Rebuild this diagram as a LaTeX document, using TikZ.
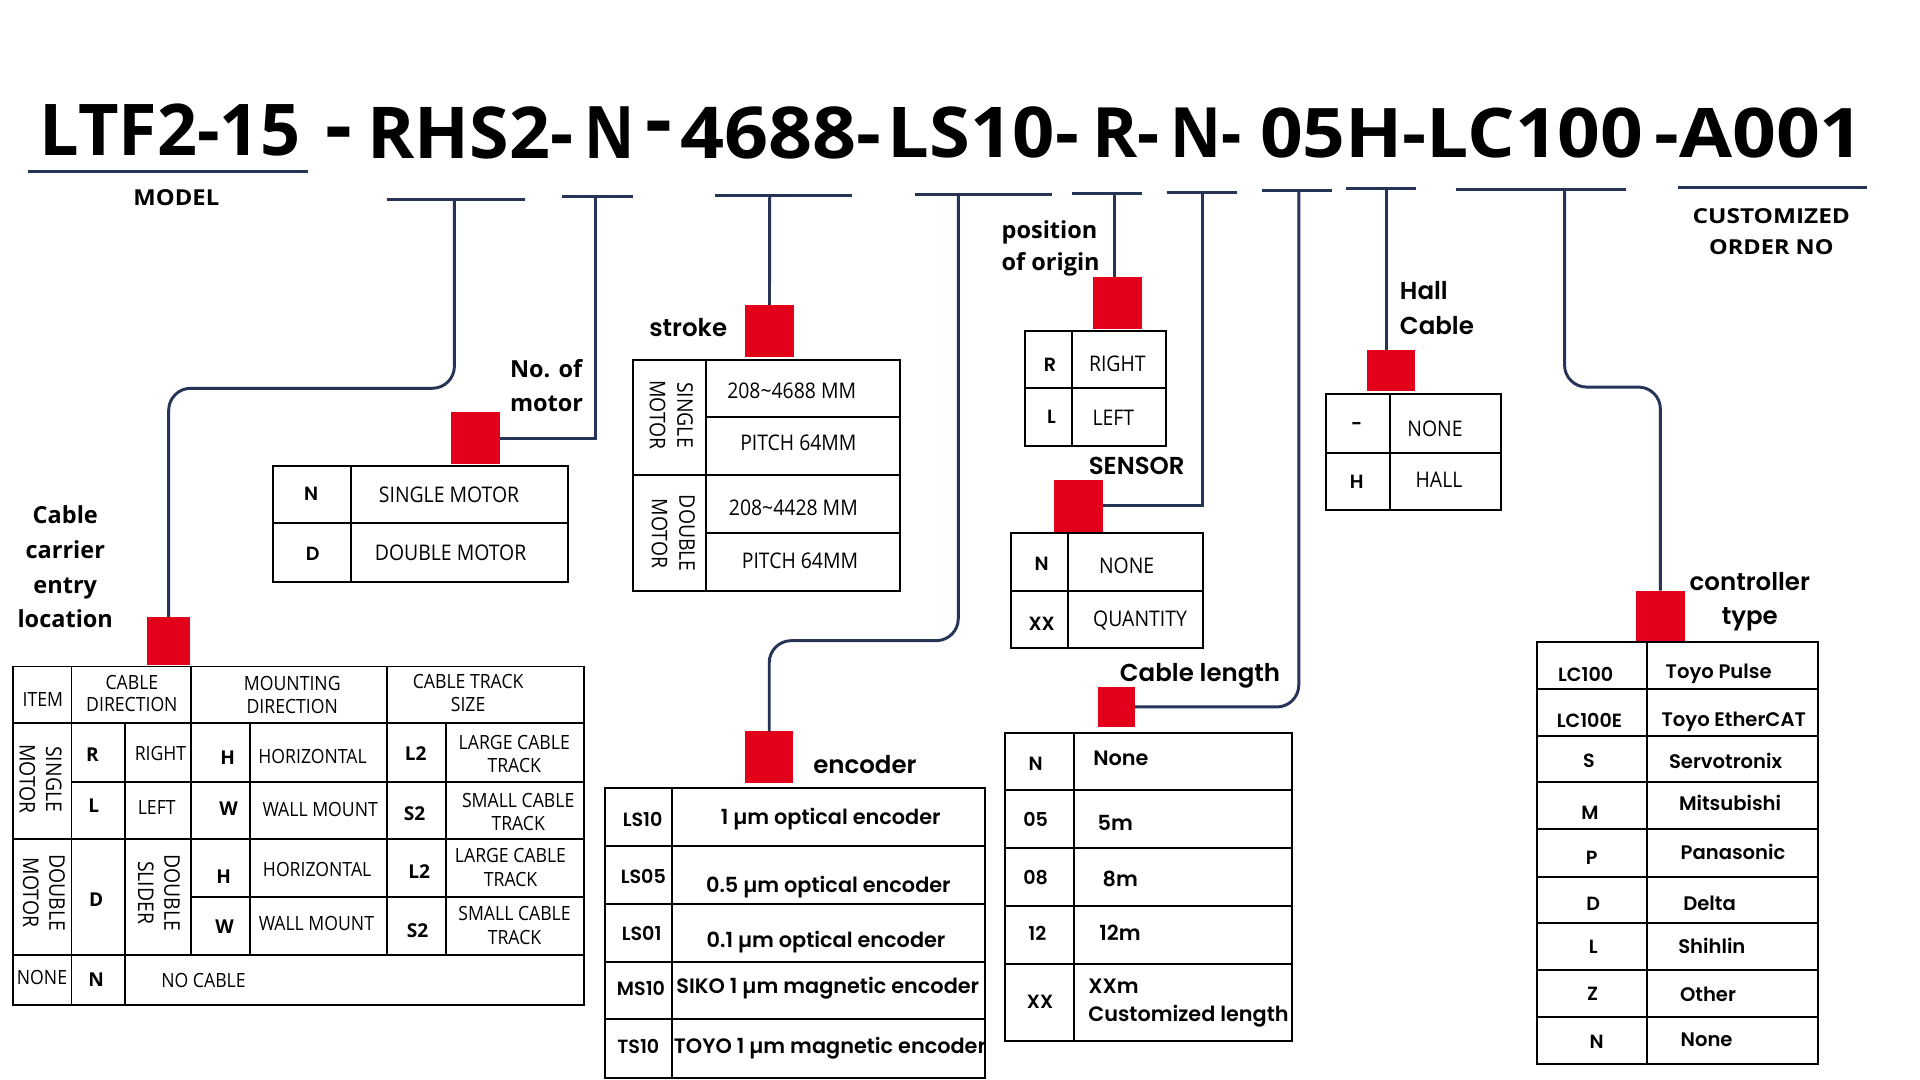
\documentclass[tikz,border=0pt]{standalone}
\usepackage{fontspec}
\setmainfont{Open Sans}
\newfontfamily\osans{Open Sans}
\newfontfamily\tabf{Open Sans}[FakeStretch=0.9]
\newfontfamily\popsb{Poppins SemiBold}
\usetikzlibrary{calc}
\definecolor{navy}{RGB}{38,52,88}
\definecolor{redc}{RGB}{226,0,26}
\begin{document}
\begin{tikzpicture}[x=0.5pt,y=-0.5pt,
  conn/.style={draw=navy, line width=1.2pt},
  tline/.style={draw=black, line width=0.8pt},
  redsq/.style={fill=redc, draw=none, inner sep=0pt, outer sep=0pt},
  txt/.style={inner sep=0pt, outer sep=0pt, anchor=base},
  ttl/.style={txt, anchor=base west, font=\osans\bfseries},
  bigtx/.style={txt, font=\tabf\fontsize{8}{10.8}\selectfont},
  bigcode/.style={txt, font=\osans\bfseries\fontsize{7.8}{9}\selectfont},
  rottx/.style={inner sep=0pt, anchor=center, rotate=-90, align=center, font=\tabf\fontsize{8.8}{10.8}\selectfont},
  smtx/.style={txt, font=\tabf\fontsize{8.8}{11}\selectfont},
  popcode/.style={txt, font=\popsb\fontsize{7.8}{9}\selectfont},
  poptx/.style={txt, font=\popsb\fontsize{8.5}{10}\selectfont},
  ctrltx/.style={txt, anchor=base west, font=\popsb\fontsize{8}{10}\selectfont},
  labp/.style={txt, font=\popsb\fontsize{10}{12}\selectfont},
  labo/.style={txt, font=\osans\bfseries\fontsize{9.6}{12}\selectfont}]
\useasboundingbox[fill=white] (0,0) rectangle (1568,882);

% ---------------- title ----------------
\node[ttl] (tLTF) at (32.6,126.6) {\resizebox{106.2pt}{21.1pt}{LTF2-15}};
\node[txt, font=\osans\bfseries\fontsize{34}{34}\selectfont] (h1) at (276.5,126.4) {-};
\node[ttl] (tRHS) at (300,129.3) {\resizebox{84pt}{21.15pt}{RHS2-}};
\node[ttl] (tN1) at (477,129.3) {\resizebox{20.5pt}{21.15pt}{N}};
\node[txt, font=\osans\bfseries\fontsize{34}{34}\selectfont] (h2) at (538,121) {-};
\node[ttl] (t4688) at (556,129.3) {\resizebox{82pt}{21.15pt}{4688-}};
\node[ttl] (tLS) at (725,129) {\resizebox{78pt}{20.75pt}{LS10-}};
\node[ttl] (tR) at (892,128.5) {\resizebox{27.5pt}{20.25pt}{R-}};
\node[ttl] (tN2) at (956,128.5) {\resizebox{29pt}{20.25pt}{N-}};
\node[ttl] (t05) at (1029,128.5) {\resizebox{156.5pt}{20.25pt}{05H-LC100}};
\node[ttl] (tA) at (1351,128.5) {\resizebox{85.5pt}{20.25pt}{-A001}};
\node[ttl] (model) at (109,168.2) {\resizebox{35pt}{6.5pt}{MODEL}};
\node[ttl, anchor=base] (cust1) at (1446.6,182.4) {\resizebox{64.25pt}{6.1pt}{CUSTOMIZED}};
\node[ttl, anchor=base] (cust2) at (1446.6,208.2) {\resizebox{50.75pt}{6.1pt}{ORDER NO}};

% ---------------- bars ----------------
\draw[conn] (22.5,140.2) -- (251.5,140.2);
\draw[conn] (316,163.3) -- (428.6,163.3);
\draw[conn] (459,160.6) -- (516.6,160.6);
\draw[conn] (583.6,159.8) -- (696.1,159.8);
\draw[conn] (747.6,158.6) -- (859,158.6);
\draw[conn] (875.4,157.9) -- (932.5,157.9);
\draw[conn] (953,157) -- (1010,157);
\draw[conn] (1030.5,155.2) -- (1087.5,155.2);
\draw[conn] (1099,154) -- (1156.5,154);
\draw[conn] (1189,154.7) -- (1328,154.7);
\draw[conn] (1370,153.3) -- (1525,153.3);

\coordinate (bA) at (371.1,163.3);
\coordinate (bB) at (486.1,160.6);
\coordinate (bC) at (628.6,159.8);
\coordinate (bD) at (782.6,158.6);
\coordinate (bE) at (910,157.9);
\coordinate (bF) at (982.2,157);
\coordinate (bG) at (1060.7,155.2);
\coordinate (bH) at (1132.4,154);
\coordinate (bI) at (1277.7,154.7);
\coordinate (yA) at (0,317.1);
\coordinate (yD) at (0,523.2);
\coordinate (yI) at (0,316.1);

% ---------------- red squares ----------------
\node[redsq, minimum width=17.45pt, minimum height=19.5pt] (sqA) at (137.75,523.5) {};
\node[redsq, minimum width=20pt, minimum height=21.15pt] (sqB) at (388.3,357.85) {};
\node[redsq, minimum width=20pt, minimum height=21.15pt] (sqC) at (628.4,270.15) {};
\node[redsq, minimum width=19.8pt, minimum height=21.2pt] (sqD) at (628.2,618.5) {};
\node[redsq, minimum width=20pt, minimum height=21.1pt] (sqE) at (912.3,247.6) {};
\node[redsq, minimum width=20.1pt, minimum height=21.1pt] (sqF) at (880.9,413.1) {};
\node[redsq, minimum width=15.2pt, minimum height=16.05pt] (sqG) at (911.7,577.35) {};
\node[redsq, minimum width=19.5pt, minimum height=16.75pt] (sqH) at (1136.1,302.25) {};
\node[redsq, minimum width=20pt, minimum height=20.4pt] (sqI) at (1356,502.8) {};

% ---------------- connectors ----------------
\draw[conn, rounded corners=9pt] (bA) -- (bA |- yA) -- (sqA.north |- yA) -- (sqA.north);
\draw[conn] (bB) -- (bB |- sqB.east) -- (sqB.east);
\draw[conn] (bC) -- (sqC.north);
\draw[conn, rounded corners=9pt] (bD) -- (bD |- yD) -- (sqD.north |- yD) -- (sqD.north);
\draw[conn] (bE) -- (bE |- sqE.north);
\draw[conn] (bF) -- (bF |- sqF.east) -- (sqF.east);
\draw[conn, rounded corners=9pt] (bG) -- (bG |- sqG.east) -- (sqG.east);
\draw[conn] (bH) -- (bH |- sqH.north);
\draw[conn, rounded corners=9pt] (bI) -- (bI |- yI) -- (sqI.north |- yI) -- (sqI.north);

% ---------------- labels ----------------
\node[labo, anchor=base west] (lNo1) at (416.5,308) {No. of};
\node[labo, anchor=base west] (lNo2) at (416.5,336.2) {motor};
\node[labo] (lCc1) at (53.3,427.4) {Cable};
\node[labo] (lCc2) at (53.3,456) {carrier};
\node[labo] (lCc3) at (53.3,484.5) {entry};
\node[labo] (lCc4) at (53.3,512.3) {location};
\node[labp, anchor=base west] (lStroke) at (530.3,275) {stroke};
\node[labo, anchor=base west] (lPos1) at (818,194.6) {position};
\node[labo, anchor=base west] (lPos2) at (818,220.5) {of origin};
\node[labp] (lSensor) at (928.3,387.9) {SENSOR};
\node[labp, anchor=base west] (lHall1) at (1143.3,244.7) {Hall};
\node[labp, anchor=base west] (lHall2) at (1143.3,273) {Cable};
\node[labp, anchor=base west] (lEnc) at (664.2,631.5) {encoder};
\node[labp, anchor=base west] (lCl) at (914.6,556.7) {Cable length};
\node[labp] (lCt1) at (1429,482) {controller};
\node[labp] (lCt2) at (1429,510.4) {type};

% ---------------- big cable table ----------------
\draw[tline] (11,544.3) rectangle (477,820.7);
\draw[tline] (11,590.7) -- (477,590.7) (11,685.5) -- (477,685.5) (11,780) -- (477,780)
  (58.4,638.4) -- (477,638.4) (156,732.8) -- (477,732.8)
  (58.4,544.3) -- (58.4,820.7) (102.4,590.7) -- (102.4,820.7)
  (156,544.3) -- (156,780) (203.8,590.7) -- (203.8,780)
  (315.8,544.3) -- (315.8,780) (364.2,590.7) -- (364.2,780);
\node[bigtx] (bItem) at (35,576.6) {ITEM};
\node[bigtx] (bCd1) at (107.7,562.9) {CABLE};
\node[bigtx] (bCd2) at (107.7,581.2) {DIRECTION};
\node[bigtx] (bMd1) at (238.7,564) {MOUNTING};
\node[bigtx] (bMd2) at (238.7,582.5) {DIRECTION};
\node[bigtx] (bCt1) at (382.3,562.1) {CABLE TRACK};
\node[bigtx] (bCt2) at (382.3,581.2) {SIZE};
\node[rottx] (bSm) at (33.1,636.3) {SINGLE\\MOTOR};
\node[bigcode] (bR) at (75.5,622) {R};
\node[bigtx] (bRight) at (131.1,621.2) {RIGHT};
\node[bigcode] (bL) at (76.5,663.7) {L};
\node[bigtx] (bLeft) at (128,664.8) {LEFT};
\node[bigcode] (bH1) at (186,624.7) {H};
\node[bigtx] (bHor1) at (255.3,623.9) {HORIZONTAL};
\node[bigcode] (bW1) at (186.6,665.6) {W};
\node[bigtx] (bWall1) at (261.5,667) {WALL MOUNT};
\node[bigcode] (bL21) at (339.5,620.7) {L2};
\node[bigtx] (bLg1a) at (420,611.9) {LARGE CABLE};
\node[bigtx] (bLg1b) at (420,631) {TRACK};
\node[bigcode] (bS21) at (338.6,669.7) {S2};
\node[bigtx] (bSm1a) at (423.2,659.6) {SMALL CABLE};
\node[bigtx] (bSm1b) at (423.2,678.4) {TRACK};
\node[rottx] (bDm) at (35.9,728.9) {DOUBLE\\MOTOR};
\node[bigcode] (bD) at (78.6,739.9) {D};
\node[rottx] (bDs) at (129.8,728.9) {DOUBLE\\SLIDER};
\node[bigcode] (bH2) at (182.6,721.4) {H};
\node[bigtx] (bHor2) at (259,716) {HORIZONTAL};
\node[bigcode] (bW2) at (183.5,762.2) {W};
\node[bigtx] (bWall2) at (258.4,759.5) {WALL MOUNT};
\node[bigcode] (bL22) at (342.3,717.3) {L2};
\node[bigtx] (bLg2a) at (416.9,704.5) {LARGE CABLE};
\node[bigtx] (bLg2b) at (417,723.6) {TRACK};
\node[bigcode] (bS22) at (341,765.7) {S2};
\node[bigtx] (bSm2a) at (420.2,752.1) {SMALL CABLE};
\node[bigtx] (bSm2b) at (420.2,771.2) {TRACK};
\node[bigtx] (bNone) at (34.3,804.4) {NONE};
\node[bigcode] (bN) at (78.6,805.8) {N};
\node[bigtx] (bNoc) at (166.2,806.6) {NO CABLE};

% ---------------- motor table ----------------
\draw[tline] (223.2,380.3) rectangle (464.1,475);
\draw[tline] (286.4,380.3) -- (286.4,475) (223.2,427.4) -- (464.1,427.4);
\node[popcode] (mN) at (254,408.9) {N};
\node[smtx] (mS) at (366.7,410.5) {SINGLE MOTOR};
\node[popcode] (mD) at (255.4,457.9) {D};
\node[smtx] (mDm) at (368,457.9) {DOUBLE MOTOR};

% ---------------- stroke table ----------------
\draw[tline] (517.2,294) rectangle (735,482.6);
\draw[tline] (576.6,294) -- (576.6,482.6) (517.2,387.9) -- (735,387.9)
  (576.6,340.8) -- (735,340.8) (576.6,435.5) -- (735,435.5);
\node[rottx, font=\tabf\fontsize{8.8}{11.2}\selectfont] (sSm) at (548.3,338.9) {SINGLE\\MOTOR};
\node[rottx, font=\tabf\fontsize{8.8}{11.2}\selectfont] (sDm) at (549.9,435.6) {DOUBLE\\MOTOR};
\node[smtx] (s1) at (646.5,325.3) {208\textasciitilde4688 MM};
\node[smtx] (s2) at (652,368.3) {PITCH 64MM};
\node[smtx] (s3) at (647.9,420.6) {208\textasciitilde4428 MM};
\node[smtx] (s4) at (653.3,464.1) {PITCH 64MM};

% ---------------- origin table ----------------
\draw[tline] (837,270) rectangle (952,364.2);
\draw[tline] (875.2,270) -- (875.2,364.2) (837,317.1) -- (952,317.1);
\node[popcode] (oR) at (857.5,303.5) {R};
\node[smtx] (oRight) at (912.5,303.5) {RIGHT};
\node[popcode] (oL) at (858.8,345.7) {L};
\node[smtx] (oLeft) at (909.2,347.1) {LEFT};

% ---------------- sensor table ----------------
\draw[tline] (825.4,435.5) rectangle (982.2,529.5);
\draw[tline] (872.5,435.5) -- (872.5,529.5) (825.4,482.7) -- (982.2,482.7);
\node[popcode] (sN) at (850.7,465.5) {N};
\node[smtx] (sNone) at (920.1,468.2) {NONE};
\node[popcode] (sXX) at (850.7,514.5) {XX};
\node[smtx] (sQ) at (931,511.8) {QUANTITY};

% ---------------- hall table ----------------
\draw[tline] (1082.6,322) rectangle (1225.6,416.8);
\draw[tline] (1135,322) -- (1135,416.8) (1082.6,370.1) -- (1225.6,370.1);
\node[popcode] (hD) at (1108,351.8) {-};
\node[smtx] (hNone) at (1171.9,356.4) {NONE};
\node[popcode] (hH) at (1108,399.3) {H};
\node[smtx] (hHall) at (1175.2,397.8) {HALL};

% ---------------- cable length table ----------------
\draw[tline] (820.7,598.3) rectangle (1054.9,849.9);
\draw[tline] (877.1,598.3) -- (877.1,849.9) (820.7,645.2) -- (1054.9,645.2)
  (820.7,692.8) -- (1054.9,692.8) (820.7,739.9) -- (1054.9,739.9) (820.7,787.3) -- (1054.9,787.3);
\node[popcode] (cN) at (845.8,629.4) {N};
\node[poptx, anchor=base west] (cNone) at (892.9,624.8) {None};
\node[popcode] (c05) at (845.8,675.1) {05};
\node[poptx, anchor=base west] (c5m) at (896.4,678.6) {5m};
\node[popcode] (c08) at (845.8,722.7) {08};
\node[poptx, anchor=base west] (c8m) at (900.5,723.6) {8m};
\node[popcode] (c12) at (847.2,767.7) {12};
\node[poptx, anchor=base west] (c12m) at (897.8,768.2) {12m};
\node[popcode] (cXX) at (849.4,823.5) {XX};
\node[poptx, anchor=base west] (cXXm) at (888.8,811.2) {XXm};
\node[poptx, anchor=base west] (cCust) at (888.8,834.4) {Customized length};

% ---------------- encoder table ----------------
\draw[tline] (494.1,643.8) rectangle (804.4,880.6);
\draw[tline] (548.5,643.8) -- (548.5,880.6) (494.1,690.9) -- (804.4,690.9)
  (494.1,738.3) -- (804.4,738.3) (494.1,785.4) -- (804.4,785.4) (494.1,832.5) -- (804.4,832.5);
\node[popcode] (eC1) at (524.8,675.1) {LS10};
\node[poptx] (eT1) at (678.4,673.7) {1 µm optical encoder};
\node[popcode] (eC2) at (525.4,721.9) {LS05};
\node[poptx] (eT2) at (676.5,729) {0.5 µm optical encoder};
\node[popcode] (eC3) at (524,768.2) {LS01};
\node[poptx] (eT3) at (674.6,773.6) {0.1 µm optical encoder};
\node[popcode] (eC4) at (523.5,813.1) {MS10};
\node[poptx] (eT4) at (676,811.2) {SIKO 1 µm magnetic encoder};
\node[popcode] (eC5) at (521.3,860.2) {TS10};
\node[poptx] (eT5) at (677.8,860.2) {TOYO 1 µm magnetic encoder};

% ---------------- controller table ----------------
\draw[tline] (1255.3,524.1) rectangle (1485,869);
\draw[tline] (1345.3,524.1) -- (1345.3,869)
  (1255.3,562.7) -- (1485,562.7) (1255.3,600.8) -- (1485,600.8) (1255.3,638.9) -- (1485,638.9)
  (1255.3,677.3) -- (1485,677.3) (1255.3,716) -- (1485,716) (1255.3,754) -- (1485,754)
  (1255.3,792.2) -- (1485,792.2) (1255.3,830.8) -- (1485,830.8);
\node[popcode] (k1) at (1295,556.7) {LC100};
\node[popcode] (k2) at (1298,594.3) {LC100E};
\node[popcode] (k3) at (1297.7,626.6) {S};
\node[popcode] (k4) at (1298.5,669) {M};
\node[popcode] (k5) at (1299.9,706.4) {P};
\node[popcode] (k6) at (1301.2,743.2) {D};
\node[popcode] (k7) at (1301.2,779) {L};
\node[popcode] (k8) at (1300.7,817.2) {Z};
\node[popcode] (k9) at (1304,856.1) {N};
\node[ctrltx] (v1) at (1360.3,554) {Toyo Pulse};
\node[ctrltx] (v2) at (1357,593.4) {Toyo EtherCAT};
\node[ctrltx] (v3) at (1363,627.5) {Servotronix};
\node[ctrltx] (v4) at (1371.2,662) {Mitsubishi};
\node[ctrltx] (v5) at (1372.5,702.3) {Panasonic};
\node[ctrltx] (v6) at (1374.7,743.2) {Delta};
\node[ctrltx] (v7) at (1370.6,778.5) {Shihlin};
\node[ctrltx] (v8) at (1372,818) {Other};
\node[ctrltx] (v9) at (1372.5,854.8) {None};
\end{tikzpicture}
\end{document}
